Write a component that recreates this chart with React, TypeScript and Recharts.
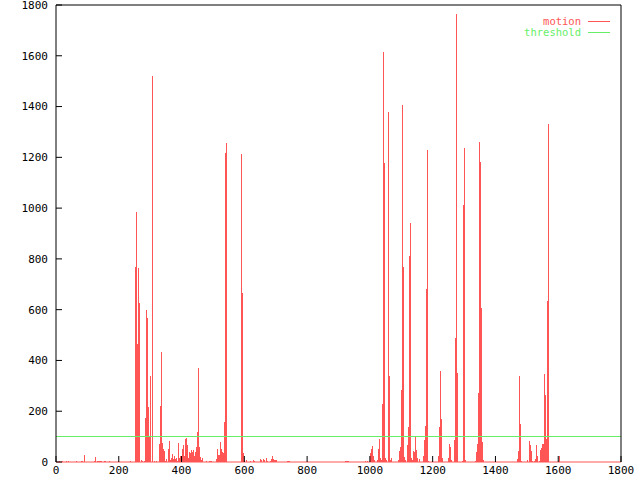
import React from "react";
import { ComposedChart, Bar, XAxis, YAxis, ReferenceLine, Legend } from "recharts";

// frame numbers (x) and motion values (y)
const FRAMES = [
  10, 22, 35, 41, 67, 80, 86, 92, 124, 127, 131, 134, 137, 140, 143, 146, 156, 159, 169, 236,
  255, 258, 261, 264, 267, 271, 274, 277, 283, 286, 290, 293, 296, 299, 302, 306, 309, 315, 321,
  331, 334, 337, 341, 344, 347, 350, 353, 357, 360, 363, 366, 369, 372, 376, 379, 382, 385, 388,
  392, 395, 398, 401, 404, 407, 411, 414, 417, 420, 423, 427, 430, 433, 436, 439, 442, 446, 449,
  452, 455, 458, 462, 465, 468,
  481, 490, 493, 497, 512, 516, 519, 522, 525, 528, 532, 535, 538, 541, 544,
  592, 595, 598, 602, 608, 621, 630, 633, 653, 656, 662, 665, 672, 675, 684, 688, 691, 694, 697, 700, 703, 738, 742, 745,
  923, 926, 929, 933, 987, 993, 1003, 1006, 1009, 1012, 1015, 1025, 1028, 1031, 1034, 1038, 1041, 1044, 1047, 1050, 1054,
  1060, 1063, 1066, 1069,
  1092, 1095, 1098, 1101, 1104, 1108, 1111, 1114, 1120, 1123, 1127, 1130, 1133, 1136, 1140, 1143, 1146, 1149, 1152, 1159,
  1171, 1175, 1178, 1181, 1184, 1187, 1219, 1222, 1225, 1229, 1232, 1251, 1254, 1257, 1260, 1270, 1273, 1277, 1280,
  1295, 1298, 1302, 1305, 1337, 1340, 1343, 1346, 1350, 1353, 1356, 1359, 1362,
  1471, 1474, 1477, 1480, 1483, 1502, 1509, 1512, 1515, 1518, 1525, 1528, 1531, 1534, 1541, 1544, 1547, 1550, 1553, 1556,
  1560, 1563, 1566, 1569, 1604,
];

const MOTION = [
  3, 3, 3, 2, 3, 3, 3, 26, 5, 20, 5, 5, 5, 5, 5, 4, 5, 3, 3, 3,
  768, 985, 465, 764, 626, 8, 3, 4, 4, 173, 599, 567, 216, 102, 339, 1305, 1520, 5, 3,
  71, 220, 433, 74, 52, 45, 2, 12, 50, 52, 84, 8, 15, 31, 10, 23, 13, 14, 3,
  76, 16, 23, 22, 50, 68, 22, 92, 94, 68, 16, 38, 36, 49, 38, 49, 22, 40, 58,
  118, 370, 58, 20, 8, 15,
  5, 4, 4, 4, 13, 52, 29, 27, 79, 50, 38, 36, 157, 1218, 1255,
  1215, 665, 36, 8, 8, 4, 8, 4, 13, 6, 10, 6, 16, 4, 5, 10, 24, 10, 8, 8, 8, 4, 4, 4,
  3, 3, 3, 3, 3, 5, 36, 50, 63, 24, 8, 8, 50, 91, 16, 8, 228, 1615, 1178, 16, 8,
  1378, 339, 8, 16,
  8, 45, 60, 284, 1406, 768, 20, 8, 68, 139, 811, 941, 16, 8, 45, 38, 102, 49, 16, 10,
  24, 87, 142, 681, 1229, 3, 24, 139, 360, 169, 16, 16, 72, 58, 8, 87, 488, 1765, 350,
  3, 1012, 1237, 8, 3, 38, 71, 273, 1260, 1181, 606, 79, 8,
  13, 45, 339, 150, 3, 8, 84, 67, 45, 3, 3, 13, 67, 23, 3, 49, 56, 71, 70, 347,
  263, 92, 634, 1331, 22,
];

const THRESHOLD = 100;
const X_TICKS = [0, 200, 400, 600, 800, 1000, 1200, 1400, 1600, 1800];
const Y_TICKS = [0, 200, 400, 600, 800, 1000, 1200, 1400, 1600, 1800];
const SERIES_NAMES = ["motion", "threshold"];
const SERIES_COLORS = ["#ff5555", "#66ee66"];

const data = FRAMES.map((f, i) => ({ frame: f, motion: MOTION[i] }));

const FONT = "'DejaVu Sans Mono', monospace";
const tickStyle = { fontFamily: FONT, fontSize: 11, fill: "#000" };

const Impulse = (props: any) => {
  const { x, y, width, height, fill } = props;
  if (height == null || height <= 0) return null;
  return (
    <rect
      x={Math.round(x + width / 2 - 0.5)}
      y={y}
      width={1}
      height={height}
      fill={fill}
      shapeRendering="crispEdges"
    />
  );
};

const LegendBox = () => (
  <div style={{ fontFamily: FONT, fontSize: 10.5 }}>
    {SERIES_NAMES.map((n, i) => (
      <div key={n} style={{ display: "flex", alignItems: "center", height: 11, justifyContent: "flex-end" }}>
        <span style={{ color: SERIES_COLORS[i], lineHeight: "11px" }}>{n}</span>
        <span style={{ display: "inline-block", width: 22, height: 1, background: SERIES_COLORS[i], marginLeft: 7 }} />
      </div>
    ))}
  </div>
);

export default function App() {
  return (
    <div style={{ position: "absolute", left: 0, top: 0, width: 640, height: 480, background: "#fff" }}>
      <ComposedChart
        width={640}
        height={480}
        data={data}
        margin={{ top: 4, right: 18, left: 0, bottom: 0 }}
      >
        <XAxis
          dataKey="frame"
          type="number"
          domain={[0, 1800]}
          ticks={X_TICKS}
          allowDataOverflow
          height={18}
          tickSize={-6}
          tickMargin={10}
          tick={tickStyle}
          tickLine={{ stroke: "#000" }}
          axisLine={{ stroke: "#ff5555" }}
          interval={0}
        />
        <XAxis
          xAxisId="top"
          orientation="top"
          type="number"
          domain={[0, 1800]}
          ticks={X_TICKS}
          allowDataOverflow
          height={1}
          tickSize={-6}
          tick={false}
          tickLine={{ stroke: "#000" }}
          axisLine={{ stroke: "#000" }}
          interval={0}
        />
        <YAxis
          type="number"
          domain={[0, 1800]}
          ticks={Y_TICKS}
          allowDataOverflow
          width={56}
          tickSize={-6}
          tickMargin={14}
          tick={tickStyle}
          tickLine={{ stroke: "#000" }}
          axisLine={{ stroke: "#000" }}
          interval={0}
        />
        <YAxis
          yAxisId="right"
          orientation="right"
          type="number"
          domain={[0, 1800]}
          ticks={Y_TICKS}
          allowDataOverflow
          width={1}
          tickSize={-6}
          tick={false}
          tickLine={{ stroke: "#000" }}
          axisLine={{ stroke: "#000" }}
          interval={0}
        />
        <ReferenceLine y={THRESHOLD} stroke={SERIES_COLORS[1]} strokeWidth={1} shapeRendering="crispEdges" />
        <Bar
          dataKey="motion"
          name={SERIES_NAMES[0]}
          fill={SERIES_COLORS[0]}
          barSize={1}
          shape={<Impulse />}
          isAnimationActive={false}
        />
        <Legend
          layout="horizontal"
          verticalAlign="middle"
          align="center"
          wrapperStyle={{ top: 16, right: 30, left: "auto", width: "auto" }}
          content={() => <LegendBox />}
        />
      </ComposedChart>
    </div>
  );
}
